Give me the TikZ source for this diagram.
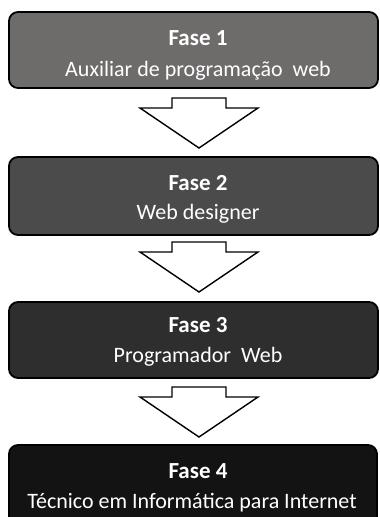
\documentclass[tikz,border=0pt]{standalone}
\usepackage{fontspec}
\setmainfont{Carlito}
\begin{document}
\begin{tikzpicture}[x=1pt,y=-1pt,
  fasebox/.style={draw=black, line width=1.8pt, rounded corners=9pt},
  ttl/.style={text=white, font=\bfseries\fontsize{23}{26}\selectfont, anchor=base},
  sub/.style={text=white, font=\fontsize{22}{26}\selectfont, anchor=base},
  downarrow/.pic={\draw[line width=1.4pt, fill=white, line join=miter]
     (-27,0) -- (27,0) -- (27,10) -- (59,10) -- (0,50) -- (-59,10) -- (-27,10) -- cycle;}
]
\useasboundingbox (0,0) rectangle (380,517);
\clip (0,0) rectangle (380,517);
\definecolor{c1}{HTML}{6E6B6B}
\definecolor{c2}{HTML}{4B4B4B}
\definecolor{c3}{HTML}{2E2E2E}
\definecolor{c4}{HTML}{131313}
\filldraw[fasebox, fill=c1] (9,12) rectangle (378,88);
\filldraw[fasebox, fill=c2] (9,157) rectangle (378,235);
\filldraw[fasebox, fill=c3] (9,302) rectangle (378,378);
\filldraw[fasebox, fill=c4] (9,445) rectangle (377,530);
\node[ttl] (t1) at (198,45) {Fase 1};
\node[sub] (s1) at (198,76) {Auxiliar de programação\ \ web};
\node[ttl] (t2) at (198,190) {Fase 2};
\node[sub] (s2) at (198,219) {Web designer};
\node[ttl] (t3) at (198,332) {Fase 3};
\node[sub] (s3) at (198,362) {Programador\ \ Web};
\node[ttl] (t4) at (198,478) {Fase 4};
\node[sub] (s4) at (192,508) {Técnico em Informática para Internet};
\coordinate (a1) at (199,98);
\coordinate (a2) at (199,242);
\coordinate (a3) at (199,387);
\pic at (a1) {downarrow};
\pic at (a2) {downarrow};
\pic at (a3) {downarrow};
\end{tikzpicture}
\end{document}
